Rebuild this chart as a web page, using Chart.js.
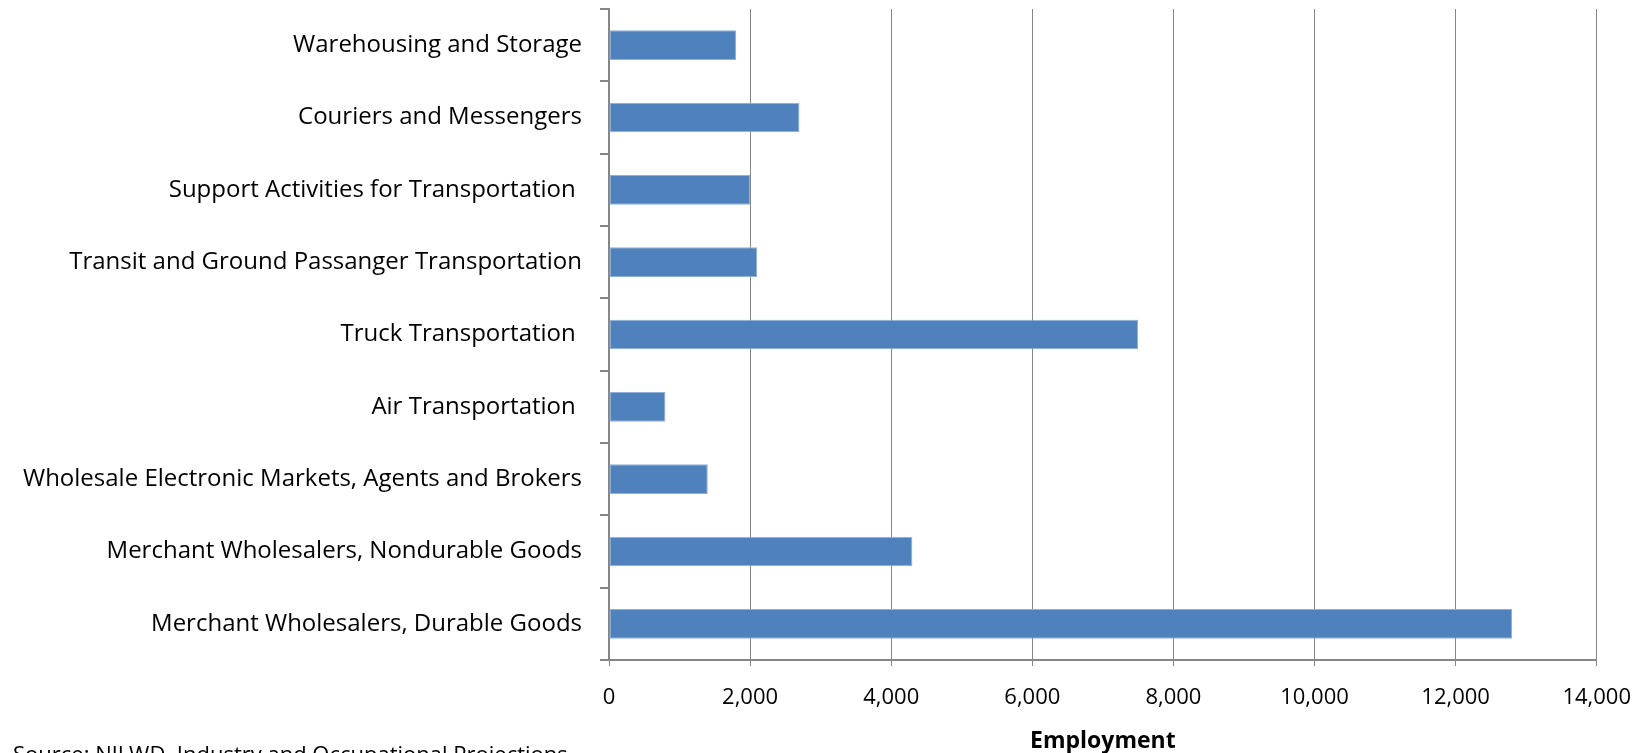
<!DOCTYPE html>
<html lang="en">

<head>
    <meta charset="UTF-8">
    <title>Employment by Industry</title>
    <script src="https://cdn.jsdelivr.net/npm/chart.js@4/dist/chart.umd.min.js"></script>
    <style>
        body { margin: 0; background: #fff; }
    </style>
</head>

<body>
    <canvas id="chart" width="1650" height="753"></canvas>
</body>
<script>
    var labels = [
        'Warehousing and Storage',
        'Couriers and Messengers',
        'Support Activities for Transportation ',
        'Transit and Ground Passanger Transportation',
        'Truck Transportation ',
        'Air Transportation ',
        'Wholesale Electronic Markets, Agents and Brokers',
        'Merchant Wholesalers, Nondurable Goods',
        'Merchant Wholesalers, Durable Goods'
    ];
    var employment = [1800, 2700, 2000, 2100, 7500, 800, 1400, 4300, 12800];
    var axisTitle = 'Employment';
    var sourceNote = 'Source: NJLWD, Industry and Occupational Projections';

    var fontFamily = '"Open Sans", Lato, sans-serif';
    var gray = '#868686';

    // source note sits under the plot, half cut off by the canvas edge
    var sourcePlugin = {
        id: 'sourceNote',
        afterDraw: function (chart) {
            var ctx = chart.ctx;
            ctx.save();
            ctx.font = '22px ' + fontFamily;
            ctx.fillStyle = '#000';
            ctx.textAlign = 'left';
            ctx.textBaseline = 'top';
            ctx.fillText(sourceNote, 13, 745);
            ctx.restore();
        }
    };

    var context = document.getElementById('chart');
    var config = {
        type: 'bar',
        data: {
            labels: labels,
            datasets: [{
                label: axisTitle,
                data: employment,
                backgroundColor: '#4F81BD',
                borderColor: '#8FB0D8',
                borderWidth: 1,
                borderSkipped: false,
                barPercentage: 0.82,
                categoryPercentage: 0.5
            }]
        },
        options: {
            indexAxis: 'y',
            responsive: false,
            animation: false,
            layout: {
                padding: { top: 9, right: 52, left: 0, bottom: 0 }
            },
            plugins: {
                legend: { display: false },
                tooltip: { enabled: false }
            },
            scales: {
                x: {
                    min: 0,
                    max: 14000,
                    ticks: {
                        stepSize: 2000,
                        padding: 19,
                        color: '#000',
                        font: { family: fontFamily, size: 22 }
                    },
                    grid: {
                        color: gray,
                        lineWidth: 1,
                        tickLength: 6,
                        tickColor: gray
                    },
                    border: { color: gray, width: 2 },
                    title: {
                        display: true,
                        text: axisTitle,
                        color: '#000',
                        font: { family: fontFamily, size: 23, weight: 'bold' },
                        padding: { top: 0, bottom: -2 }
                    },
                    afterFit: function (scale) { scale.height = 93; }
                },
                y: {
                    ticks: {
                        padding: 18,
                        color: '#000',
                        font: { family: fontFamily, size: 24 }
                    },
                    grid: {
                        drawOnChartArea: false,
                        tickLength: 9,
                        tickColor: gray,
                        lineWidth: 2,
                        offset: true
                    },
                    border: { color: gray, width: 2 },
                    afterFit: function (scale) {
                        scale.width = 609;
                        // labels sit mid-category, no need for extra room above/below
                        scale.paddingTop = 0;
                        scale.paddingBottom = 0;
                    }
                }
            }
        },
        plugins: [sourcePlugin]
    };
    var chart = new Chart(context, config);
</script>

</html>
